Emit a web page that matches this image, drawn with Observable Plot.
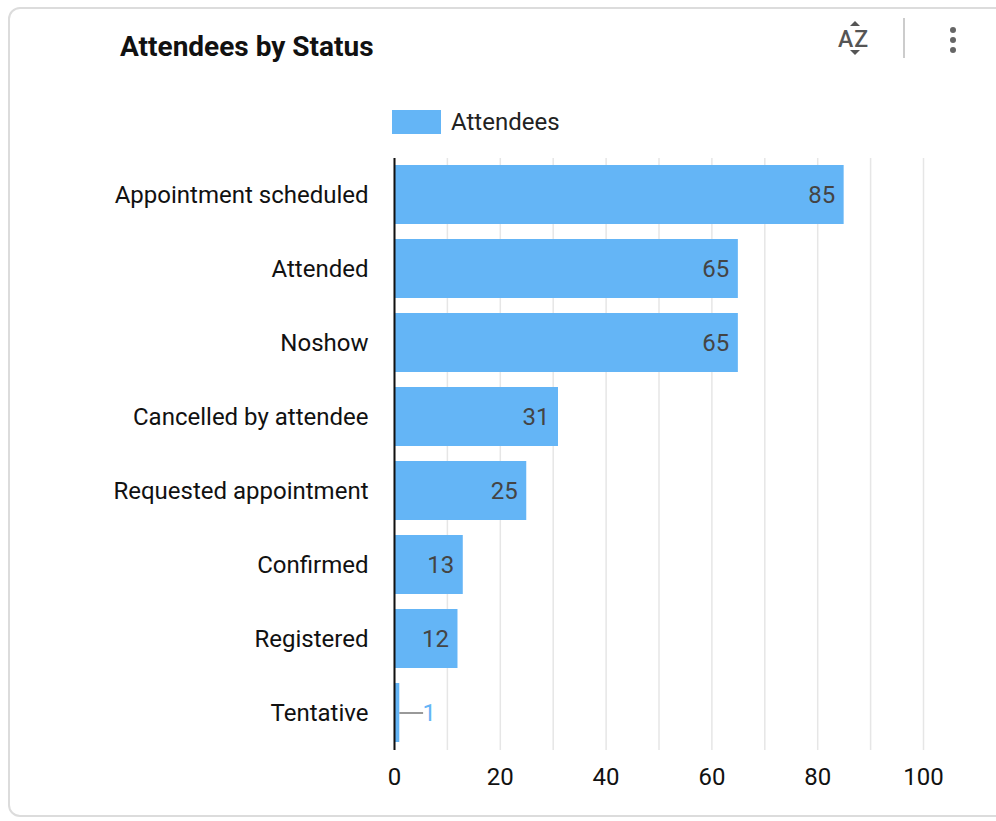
<!DOCTYPE html>
<html>
<head>
<meta charset="utf-8">
<script src="https://cdn.jsdelivr.net/npm/d3@7"></script>
<script src="https://cdn.jsdelivr.net/npm/@observablehq/plot@0.6"></script>
<style>
  html, body { margin: 0; padding: 0; background: #fff; font-family: Roboto, sans-serif; }
  #wrap { position: relative; width: 996px; height: 821px; overflow: hidden; }
  #card { position: absolute; left: 8px; top: 7px; width: 1000px; height: 810px; border: 2px solid #dcdcdc; border-radius: 12px; box-sizing: border-box; }
  #title { position: absolute; left: 120px; top: 30px; font-size: 28px; font-weight: 700; color: #111; line-height: 34px; }
  #legend { position: absolute; left: 392px; top: 108px; display: flex; align-items: center; font-size: 24px; color: #222; }
  #legend .sw { width: 49px; height: 24px; background: #64B5F6; margin-right: 10px; }
  #sort { position: absolute; left: 838px; top: 22px; width: 36px; height: 36px; color: #555; }
  #sort .letters { position: absolute; left: 0; top: 4px; font-size: 23px; font-weight: 500; letter-spacing: 1px; line-height: 28px; }
  #sort .up { position: absolute; left: 12px; top: -1px; width: 0; height: 0; border-left: 5px solid transparent; border-right: 5px solid transparent; border-bottom: 5px solid #555; }
  #sort .down { position: absolute; left: 12px; top: 28px; width: 0; height: 0; border-left: 5px solid transparent; border-right: 5px solid transparent; border-top: 5px solid #555; }
  #divider { position: absolute; left: 903px; top: 18px; width: 2px; height: 40px; background: #ccc; }
  #kebab { position: absolute; left: 950px; top: 27px; }
  #kebab div { width: 6px; height: 6px; border-radius: 50%; background: #666; margin-bottom: 4px; }
  #chart { position: absolute; left: 0; top: 0; }
</style>
</head>
<body>
<div id="wrap">
  <div id="card"></div>
  <div id="chart"></div>
  <div id="title">Attendees by Status</div>
  <div id="legend"><div class="sw"></div><span>Attendees</span></div>
  <div id="sort"><div class="up"></div><div class="letters">AZ</div><div class="down"></div></div>
  <div id="divider"></div>
  <div id="kebab"><div></div><div></div><div></div></div>
</div>
<script>
const categories = ["Appointment scheduled", "Attended", "Noshow", "Cancelled by attendee", "Requested appointment", "Confirmed", "Registered", "Tentative"];
const values = [85, 65, 65, 31, 25, 13, 12, 1];
const xTicks = [0, 20, 40, 60, 80, 100];
const gridTicks = [0, 10, 20, 30, 40, 50, 60, 70, 80, 90, 100];
const seriesName = "Attendees";

const data = categories.map((c, i) => ({status: c, value: values[i]}));
const inside = data.filter(d => d.value >= 5);
const outside = data.filter(d => d.value < 5);

const chart = Plot.plot({
  width: 996,
  height: 821,
  marginLeft: 394,
  marginRight: 73,
  marginTop: 158,
  marginBottom: 71,
  style: {fontFamily: "Roboto, sans-serif", fontSize: "24px", background: "transparent", overflow: "visible"},
  x: {domain: [0, 100], axis: null},
  y: {domain: categories, paddingInner: 0.2, paddingOuter: 0.1, axis: null},
  marks: [
    Plot.gridX(gridTicks, {stroke: "#e6e6e6", strokeOpacity: 1, strokeWidth: 1.5}),
    Plot.barX(data, {y: "status", x: "value", fill: "#64B5F6"}),
    Plot.ruleY(outside, {y: "status", x1: "value", x2: d => d.value + 4.5, stroke: "#999", strokeWidth: 2}),
    Plot.text(outside, {y: "status", x: d => d.value + 4.5, text: d => String(d.value), textAnchor: "start", dx: -1, fill: "#64B5F6", fontSize: 24}),
    Plot.text(inside, {y: "status", x: "value", text: d => String(d.value), textAnchor: "end", dx: -9, fill: "#444", fontSize: 24}),
    Plot.ruleX([0], {stroke: "#111", strokeWidth: 2}),
    Plot.axisY({tickSize: 0, tickPadding: 26, fontSize: 24, fill: "#111", label: null}),
    Plot.axisX(xTicks, {tickSize: 0, tickPadding: 17, fontSize: 24, fill: "#111", label: null})
  ]
});
document.getElementById("chart").appendChild(chart);
</script>
</body>
</html>
